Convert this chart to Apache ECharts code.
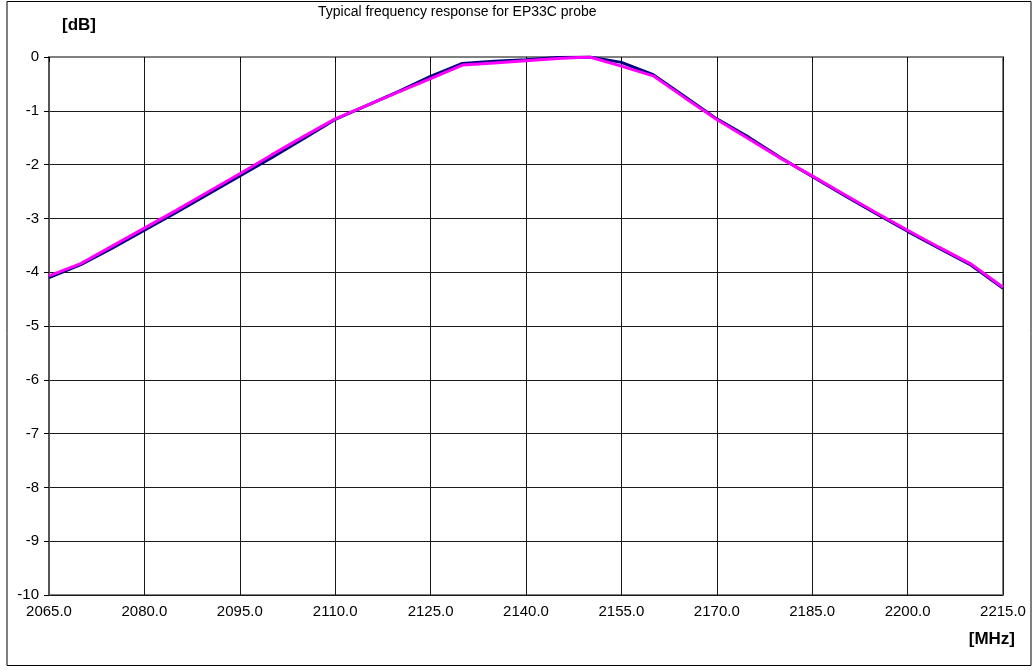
<!DOCTYPE html>
<html>
<head>
<meta charset="utf-8">
<script src="https://cdn.jsdelivr.net/npm/echarts@6/dist/echarts.min.js"></script>
<style>
  html, body { margin: 0; padding: 0; background: #fff; }
  #chart { width: 1034px; height: 670px; }
</style>
</head>
<body>
<div id="chart"></div>
<script>
// Data
var titleText = 'Typical frequency response for EP33C probe';
var yUnit = '[dB]';
var xUnit = '[MHz]';
var freqStart = 2065;
var freqEnd = 2215;
var freqStep = 15;
var freqs = [2065, 2070, 2075, 2080, 2085, 2090, 2095, 2100, 2105, 2110,
             2115, 2120, 2125, 2130, 2135, 2140, 2145, 2150, 2155, 2160,
             2165, 2170, 2175, 2180, 2185, 2190, 2195, 2200, 2205, 2210, 2215];
var navyValues = [-4.10, -3.86, -3.55, -3.22, -2.89, -2.55, -2.21, -1.87, -1.52, -1.16,
                  -0.90, -0.64, -0.36, -0.12, -0.08, -0.05, -0.01, 0.00, -0.10, -0.33,
                  -0.74, -1.15, -1.49, -1.87, -2.22, -2.57, -2.91, -3.24, -3.56, -3.87, -4.30];
var magentaValues = [-4.07, -3.84, -3.51, -3.18, -2.85, -2.51, -2.17, -1.82, -1.48, -1.15,
                     -0.90, -0.65, -0.40, -0.15, -0.11, -0.07, -0.03, 0.00, -0.17, -0.35,
                     -0.76, -1.16, -1.52, -1.88, -2.21, -2.55, -2.89, -3.22, -3.54, -3.85, -4.28];

// x axis is offset so ticks start at min (ticks counted from a multiple of the interval)
function pairs(vals) {
  return freqs.map(function (f, i) { return [f - freqStart, vals[i]]; });
}

var chart = echarts.init(document.getElementById('chart'), null, { renderer: 'canvas' });
var FONT = '"Liberation Sans", Arial, sans-serif';

chart.setOption({
  animation: false,
  backgroundColor: '#ffffff',
  title: {
    text: titleText,
    left: 313,
    top: 0,
    textStyle: { fontFamily: FONT, fontSize: 14, fontWeight: 'normal', color: '#000' }
  },
  graphic: [
    {
      type: 'rect',
      shape: { x: 7, y: 1.5, width: 1024, height: 664 },
      style: { fill: 'none', stroke: '#000', lineWidth: 1 },
      z: 0
    },
    {
      type: 'text',
      left: 62,
      top: 17,
      style: { text: yUnit, font: 'bold 17px ' + FONT, fill: '#000' }
    },
    {
      type: 'text',
      right: 19,
      top: 631,
      style: { text: xUnit, font: 'bold 17px ' + FONT, fill: '#000' }
    }
  ],
  grid: {
    left: 49,
    right: 31,
    top: 57,
    bottom: 75,
    show: true,
    borderColor: '#808080',
    borderWidth: 2,
    backgroundColor: 'transparent'
  },
  xAxis: {
    type: 'value',
    min: 0,
    max: freqEnd - freqStart,
    interval: freqStep,
    axisLine: { show: true, lineStyle: { color: '#808080', width: 2 } },
    axisTick: { show: true, inside: false, length: 5, lineStyle: { color: '#000', width: 1 } },
    axisLabel: {
      margin: 9,
      fontFamily: FONT,
      fontSize: 15,
      color: '#000',
      formatter: function (v) { return (v + freqStart).toFixed(1); }
    },
    splitLine: { show: true, lineStyle: { color: '#1a1a1a', width: 1 } }
  },
  yAxis: {
    type: 'value',
    min: -10,
    max: 0,
    interval: 1,
    axisLine: { show: true, lineStyle: { color: '#555', width: 2 } },
    axisTick: { show: true, inside: false, length: 5, lineStyle: { color: '#000', width: 1 } },
    axisLabel: {
      margin: 10,
      fontFamily: FONT,
      fontSize: 15,
      color: '#000'
    },
    splitLine: { show: true, lineStyle: { color: '#1a1a1a', width: 1 } }
  },
  series: [
    {
      name: 'navy',
      type: 'line',
      data: pairs(navyValues),
      showSymbol: false,
      smooth: false,
      lineStyle: { color: '#000080', width: 3 },
      z: 3
    },
    {
      name: 'magenta',
      type: 'line',
      data: pairs(magentaValues),
      showSymbol: false,
      smooth: false,
      lineStyle: { color: '#ff00ff', width: 3 },
      z: 4
    }
  ]
});
</script>
</body>
</html>
